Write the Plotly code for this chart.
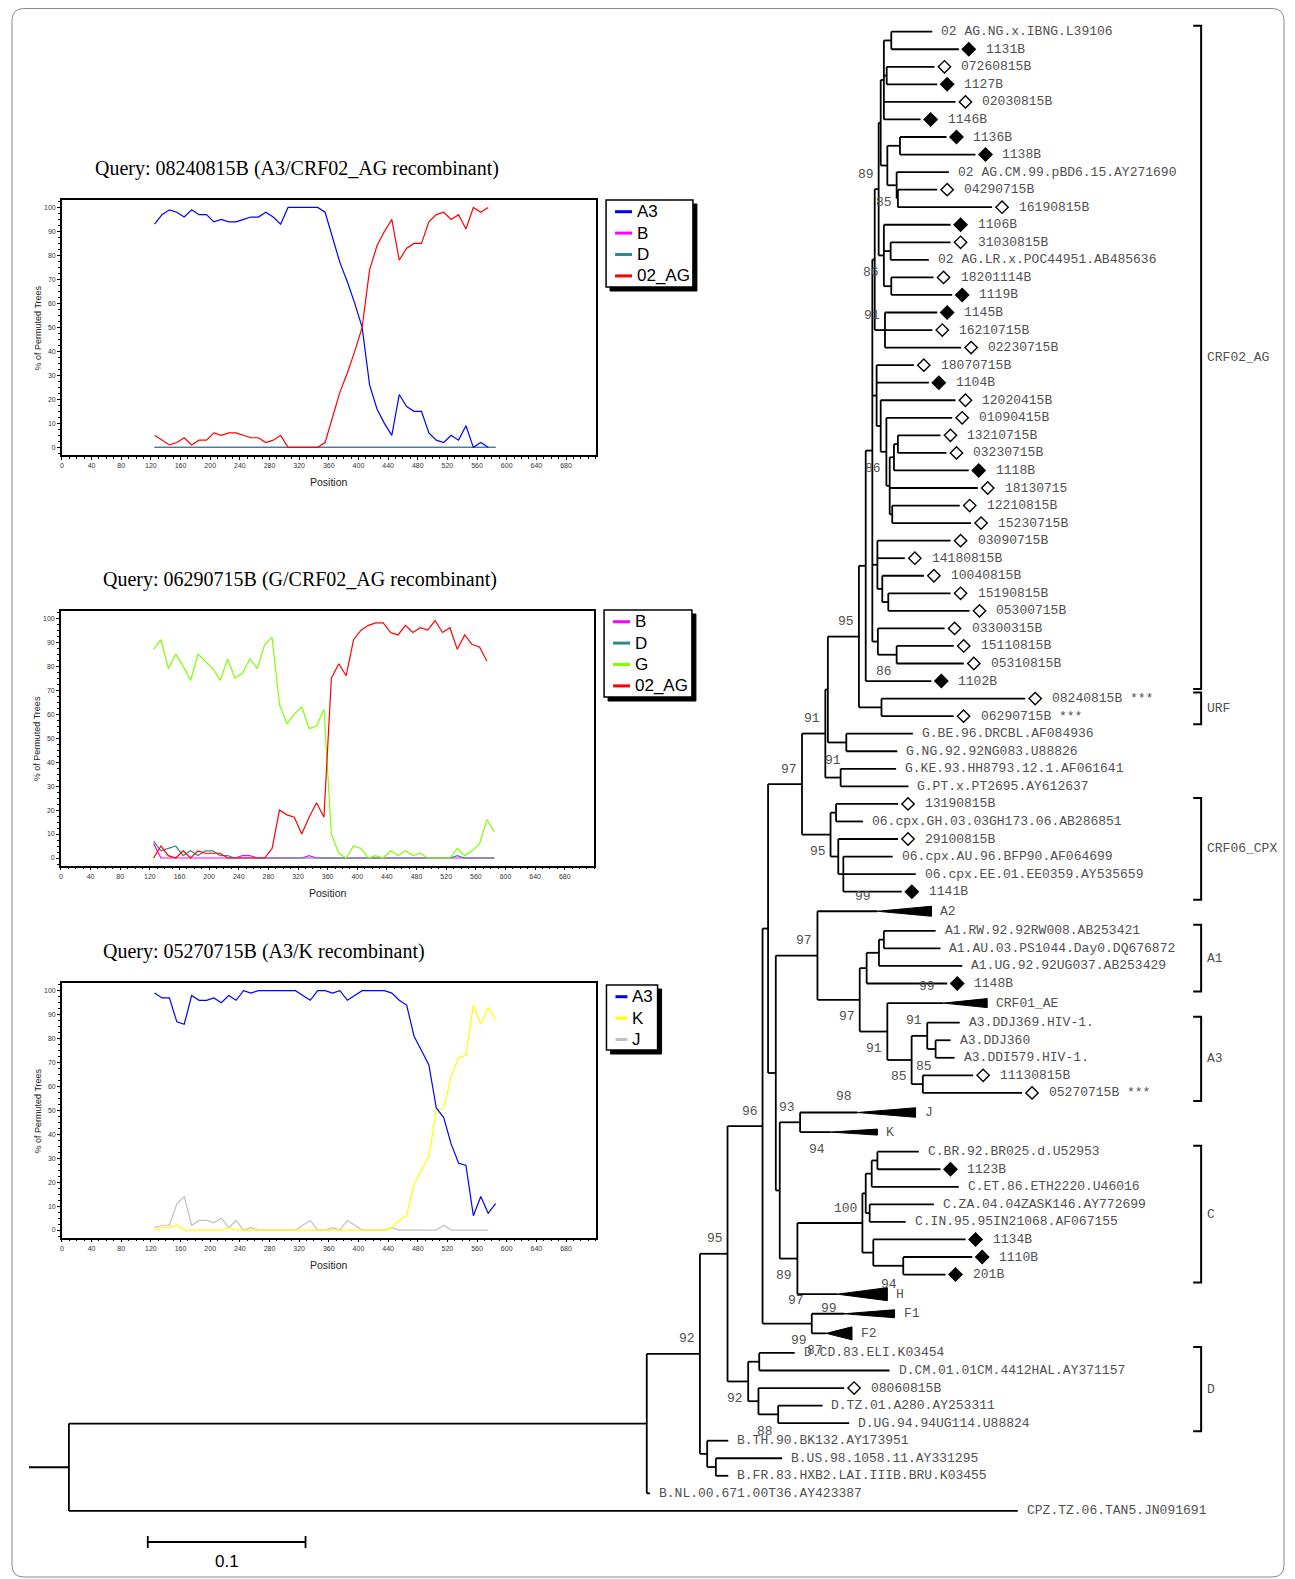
import plotly.graph_objects as go

W, H = 1295, 1579

# ---------------------------------------------------------------- tree data
LEAF_NAMES = [
    "02 AG.NG.x.IBNG.L39106", "1131B", "07260815B", "1127B", "02030815B", "1146B",
    "1136B", "1138B", "02 AG.CM.99.pBD6.15.AY271690", "04290715B", "16190815B",
    "1106B", "31030815B", "02 AG.LR.x.POC44951.AB485636", "18201114B", "1119B",
    "1145B", "16210715B", "02230715B", "18070715B", "1104B", "12020415B", "01090415B",
    "13210715B", "03230715B", "1118B", "18130715", "12210815B", "15230715B",
    "03090715B", "14180815B", "10040815B", "15190815B", "05300715B", "03300315B",
    "15110815B", "05310815B", "1102B", "08240815B ***", "06290715B ***",
    "G.BE.96.DRCBL.AF084936", "G.NG.92.92NG083.U88826", "G.KE.93.HH8793.12.1.AF061641",
    "G.PT.x.PT2695.AY612637", "13190815B", "06.cpx.GH.03.03GH173.06.AB286851",
    "29100815B", "06.cpx.AU.96.BFP90.AF064699", "06.cpx.EE.01.EE0359.AY535659", "1141B",
    "A2", "A1.RW.92.92RW008.AB253421", "A1.AU.03.PS1044.Day0.DQ676872",
    "A1.UG.92.92UG037.AB253429", "1148B", "CRF01_AE", "A3.DDJ369.HIV-1.", "A3.DDJ360",
    "A3.DDI579.HIV-1.", "11130815B", "05270715B ***", "J", "K",
    "C.BR.92.BR025.d.U52953", "1123B", "C.ET.86.ETH2220.U46016",
    "C.ZA.04.04ZASK146.AY772699", "C.IN.95.95IN21068.AF067155", "1134B", "1110B", "201B",
    "H", "F1", "F2", "D.CD.83.ELI.K03454", "D.CM.01.01CM.4412HAL.AY371157", "08060815B",
    "D.TZ.01.A280.AY253311", "D.UG.94.94UG114.U88824", "B.TH.90.BK132.AY173951",
    "B.US.98.1058.11.AY331295", "B.FR.83.HXB2.LAI.IIIB.BRU.K03455",
    "B.NL.00.671.00T36.AY423387", "CPZ.TZ.06.TAN5.JN091691",
]
# F = filled diamond, O = open diamond, T = collapsed clade, . = none
LEAF_MARK = (".FOFOFFF.O" "OFO.OFFOOO" "FOOOOFOOOO" "OOOOOOOFOO" "....O.O..F"
             "T...FT...O" "OTT.F...FF" "FTTT..O..." "....")
# tip depth (substitutions/site from root); for collapsed clades: far end
LEAF_TIP = [
    0.5473, 0.5641, 0.5487, 0.5504, 0.5620, 0.5399, 0.5563, 0.5747, 0.5578, 0.5504,
    0.5852, 0.5589, 0.5589, 0.5451, 0.5481, 0.5599, 0.5504, 0.5473, 0.5656, 0.5356,
    0.5451, 0.5620, 0.5599, 0.5525, 0.5563, 0.5704, 0.5761, 0.5647, 0.5719, 0.5589,
    0.5299, 0.5420, 0.5589, 0.5709, 0.5551, 0.5609, 0.5673, 0.5467, 0.6062, 0.5608,
    0.5350, 0.5251, 0.5244, 0.5322, 0.5256, 0.5034, 0.5256, 0.5222, 0.5368, 0.5280,
    0.5468, 0.5494, 0.5525, 0.5663, 0.5568, 0.5821, 0.5647, 0.5589, 0.5614, 0.5732,
    0.6042, 0.5367, 0.5125, 0.5388, 0.5525, 0.5641, 0.5483, 0.5304, 0.5684, 0.5726,
    0.5557, 0.5188, 0.5234, 0.4964, 0.4601, 0.5202, 0.4914, 0.4777, 0.4946, 0.4180,
    0.4521, 0.4180, 0.3684, 0.6015,
]
# collapsed clades: start depth of the triangle
TRI_START = {50: 0.5125, 55: 0.5544, 61: 0.4998, 62: 0.4829, 71: 0.4871, 72: 0.4914, 73: 0.4801}
ROOT_STUB = 0.0253


def N(d, boot, kids, lab="a"):
    return {"d": d, "b": boot, "k": kids, "lab": lab}


n01 = N(0.5213, None, [0, 1])
n23 = N(0.5184, None, [2, 3])
nA = N(0.5166, None, [n01, n23, 4, 5])
n67 = N(0.5268, None, [6, 7])
n910 = N(0.5255, None, [9, 10])
n810 = N(0.5247, 85, [8, n910], "b")
nN1 = N(0.5188, None, [n67, n810])
nB = N(0.5146, None, [nA, nN1])
n1213 = N(0.5209, None, [12, 13])
n1415 = N(0.5213, None, [14, 15])
nD = N(0.5166, 86, [11, n1213, n1415], "b")
nC = N(0.5133, 89, [nB, nD], "a")
n1618 = N(0.5173, 91, [16, 17, 18], "a")
nE = N(0.5108, None, [nC, n1618])
n2324 = N(0.5255, None, [23, 24])
n2325 = N(0.5230, None, [n2324, 25])
n2728 = N(0.5219, None, [27, 28])
n2328 = N(0.5203, None, [n2325, 26, n2728])
n2228 = N(0.5182, 86, [22, n2328], "b")
n2128 = N(0.5146, None, [21, n2228])
n1928 = N(0.5120, None, [19, 20, n2128])
n3233 = N(0.5194, None, [32, 33])
n3133 = N(0.5156, None, [31, n3233])
n2933 = N(0.5125, None, [29, 30, n3133])
n3536 = N(0.5247, 86, [35, 36], "b")
n3436 = N(0.5128, None, [34, n3536])
nL = N(0.5093, None, [nE, n1928, n2933, n3436])
nK = N(0.5051, None, [nL, 37])
nURF = N(0.5151, None, [38, 39])
nG95 = N(0.5008, 95, [nK, nURF], "a")
n4041 = N(0.4928, None, [40, 41])
nH = N(0.4811, None, [nG95, n4041])
n4243 = N(0.4892, 91, [42, 43], (1, -17))
nI91 = N(0.4795, 91, [nH, n4243], "a")
n4445 = N(0.4863, None, [44, 45])
n4749 = N(0.4909, 99, [47, 48, 49], (29, 22))
n4649 = N(0.4877, None, [46, n4749])
nCPX = N(0.4828, 95, [n4445, n4649], "b")
n97 = N(0.4647, 97, [nI91, nCPX], "a")
n5152 = N(0.5166, None, [51, 52])
n5153 = N(0.5135, None, [n5152, 53])
nA1 = N(0.5057, 99, [n5153, 54], (69, 18))
n5758 = N(0.5494, None, [57, 58])
n5658 = N(0.5441, 91, [56, n5758], "a")
n5960 = N(0.5413, 85, [59, 60], (10, -18))
nA3 = N(0.5342, 85, [n5658, n5960], "b")
nA3AE = N(0.5188, 91, [55, nA3], "b")
nA13 = N(0.5013, 97, [nA1, nA3AE], "b")
nAall = N(0.4745, 97, [50, nA13], "a")
nJK = N(0.4635, 93, [61, 62], "a")
n6364 = N(0.5125, None, [63, 64])
n6365 = N(0.5089, None, [n6364, 65])
n6667 = N(0.5076, None, [66, 67])
nCref = N(0.5051, None, [n6365, n6667])
n6970 = N(0.5289, None, [69, 70])
n6870 = N(0.5099, None, [68, n6970])
nCC = N(0.5030, 100, [nCref, n6870], "a")
nCH = N(0.4618, 89, [nCC, 71], "b")
nJKCH = N(0.4506, None, [nJK, nCH])
n775 = N(0.4481, None, [nAall, nJKCH])
n767 = N(0.4432, None, [n97, n775])
nF = N(0.4709, 99, [72, 73], "b")
n96 = N(0.4397, 96, [n767, nF], "a")
nDCD = N(0.4376, 87, [74, 75], (65, -11))
n7778 = N(0.4496, 88, [77, 78], "b")
n7678 = N(0.4371, None, [76, n7778])
nDD = N(0.4306, 92, [nDCD, n7678], "b")
n95 = N(0.4175, 95, [n96, nDD], "a")
n8081 = N(0.4101, None, [80, 81])
nBB = N(0.4046, None, [79, n8081])
n92 = N(0.4000, 92, [n95, nBB], "a")
nING = N(0.3663, None, [n92, 82])
ROOT = N(0.0, None, [nING, 83])

# bootstrap values drawn beside collapsed clades (leaf index, value)
TRI_BOOT = [(61, 98), (62, 94), (71, 97), (71, 94), (72, 99)]
TRI_BOOT_OFF = [(-4.7, -16), (-5, 17), (-32, 6), (61, -10), (-6, -5)]

CLADES = [("CRF02_AG", 0, 37), ("URF", 38, 39), ("CRF06_CPX", 44, 49), ("A1", 51, 54),
          ("A3", 56, 60), ("C", 63, 70), ("D", 74, 78)]
SCALE_BAR = (0.05, 0.15, "0.1")

# ---------------------------------------------------------------- bootscan data
POS_A = list(range(125, 586, 10))   # 125..585
POS_B = list(range(125, 576, 10))   # 125..575

Q1_A3 = [93, 97, 99, 98, 96, 99, 97, 97, 94, 95, 94, 94, 95, 96, 96, 98, 96, 93, 100, 100,
         100, 100, 100, 98, 88, 77, 69, 60, 50, 26, 16, 10, 5, 22, 17, 15, 15, 6, 3, 2,
         5, 3, 9, 0, 2, 0]
Q1_AG = [5, 3, 1, 2, 4, 1, 3, 3, 6, 5, 6, 6, 5, 4, 4, 2, 3, 5, 0, 0,
         0, 0, 0, 2, 12, 23, 31, 40, 50, 74, 84, 90, 95, 78, 83, 85, 85, 94, 97, 98,
         95, 97, 91, 100, 98, 100]
Q1_B = [0] * 47
Q1_D = [0] * 47

Q2_G = [87, 91, 79, 85, 80, 74, 85, 82, 79, 74, 83, 75, 77, 83, 79, 89, 92, 64, 56, 60,
        63, 54, 55, 62, 10, 2, 0, 5, 4, 0, 1, 0, 3, 1, 3, 1, 2, 0, 0, 0,
        0, 4, 1, 3, 6, 16, 11]
Q2_AG = [0, 5, 1, 0, 3, 0, 3, 2, 2, 2, 0, 0, 0, 0, 0, 0, 4, 20, 18, 17,
         10, 17, 23, 17, 75, 81, 76, 91, 95, 97, 98, 98, 94, 93, 97, 94, 96, 95, 99, 94,
         96, 87, 93, 89, 88, 82]
Q2_D = [7, 3, 4, 5, 1, 3, 1, 3, 3, 1, 1, 0, 0, 0, 0, 0, 0, 0, 0, 0,
        0, 0, 0, 0, 0, 0, 0, 0, 0, 0, 0, 0, 0, 0, 0, 0, 0, 0, 0, 0,
        0, 1, 0, 0, 0, 0, 0]
Q2_B = [6, 0, 0, 0, 0, 0, 0, 0, 0, 0, 0, 0, 1, 1, 0, 0, 0, 0, 0, 0,
        0, 1, 0, 0, 0, 0, 0, 0, 0, 0, 0, 0, 0, 0, 0, 0, 0, 0, 0, 0,
        0, 0, 0, 0, 0, 0, 0]

Q3_A3 = [99, 97, 97, 87, 86, 98, 96, 96, 97, 95, 98, 96, 100, 99, 100, 100, 100, 100, 100, 100,
         98, 96, 100, 100, 99, 100, 96, 98, 100, 100, 100, 100, 99, 96, 94, 81, 75, 69, 51, 47,
         36, 28, 27, 6, 14, 7, 11]
Q3_K = [0, 1, 1, 2, 0, 0, 0, 0, 0, 0, 1, 0, 0, 0, 0, 0, 0, 0, 0, 0,
        0, 0, 0, 0, 0, 0, 0, 0, 0, 0, 0, 0, 1, 4, 6, 19, 25, 31, 50, 51,
        64, 72, 73, 94, 86, 93, 88]
Q3_J = [1, 2, 2, 11, 14, 2, 4, 4, 3, 5, 1, 4, 0, 1, 0, 0, 0, 0, 0, 0,
        2, 4, 0, 0, 1, 0, 4, 2, 0, 0, 0, 0, 1, 0, 0, 0, 0, 0, 0, 2,
        0, 0, 0, 0, 0, 0]

TITLES = ["Query: 08240815B (A3/CRF02_AG recombinant)",
          "Query: 06290715B (G/CRF02_AG recombinant)",
          "Query: 05270715B (A3/K recombinant)"]
# draw order
SERIES = [
    [("B", POS_A, Q1_B), ("D", POS_A, Q1_D), ("A3", POS_B, Q1_A3), ("02_AG", POS_B, Q1_AG)],
    [("B", POS_A, Q2_B), ("D", POS_A, Q2_D), ("G", POS_A, Q2_G), ("02_AG", POS_B, Q2_AG)],
    [("J", POS_B, Q3_J), ("K", POS_A, Q3_K), ("A3", POS_A, Q3_A3)],
]
LEGEND_ORDER = [["A3", "B", "D", "02_AG"], ["B", "D", "G", "02_AG"], ["A3", "K", "J"]]
COLORS = {"A3": "#0000ff", "B": "#ff00ff", "D": "#2e8b8b", "02_AG": "#ff0000",
          "G": "#80ff00", "K": "#ffff00", "J": "#c0c0c0"}

# ---------------------------------------------------------------- layout constants
OFF = 8                    # page body margin added by the browser
WF, HF = W - 16, H - 8     # figure size inside the page
PX = 1580.0                # pixels per substitution/site
X0 = 67.0                  # pixel position of the root
ROW0, GAP, TGAP = 31.7, 17.55, 19.6
TREE_FONT = dict(family="Liberation Mono, Courier New, monospace", size=13, color="#505050")
SANS = "Liberation Sans, Arial, sans-serif"

INSET_BOX = [(60, 200, 594.6, 455), (59, 610.7, 593.3, 865.7), (60, 983.3, 594.6, 1237.7)]
TITLE_XY = [(91, 168.3), (99, 579), (99, 951.3)]
LEGEND_BOX = [(605, 200, 692, 287), (603, 610, 691, 697), (605.4, 985, 656.6, 1050)]
LEGEND_SAMPLE = [17, 17, 12]


def fx(p):
    return (p - OFF) / WF


def fy(p):
    return 1 - (p - OFF) / HF


def ux(p):
    return p / PX


n_leaf = len(LEAF_NAMES)
leaf_y = [ROW0]
for i in range(1, n_leaf):
    g = TGAP if (LEAF_MARK[i] == "T" or LEAF_MARK[i - 1] == "T") else GAP
    leaf_y.append(leaf_y[-1] + g)

seg_x, seg_y = [], []
annotations = []


def boot_label(x, y, val, dx, dy):
    annotations.append(dict(x=x + ux(dx), y=y + dy, xref="x", yref="y", text=str(val),
                            showarrow=False, xanchor="right", yanchor="middle",
                            font=TREE_FONT, borderpad=0))


def place(node):
    if isinstance(node, int):
        return leaf_y[node], TRI_START.get(node, LEAF_TIP[node])
    ys = []
    for ch in node["k"]:
        cy, cx = place(ch)
        seg_x.extend([node["d"], cx, None])
        seg_y.extend([cy, cy, None])
        ys.append(cy)
    seg_x.extend([node["d"], node["d"], None])
    seg_y.extend([min(ys), max(ys), None])
    y = (ys[0] + ys[-1]) / 2.0
    if node["b"] is not None:
        lab = node["lab"]
        if lab == "a":
            dx, dy = -4, -15
        elif lab == "b":
            dx, dy = -4, 17
        else:
            dx, dy = lab
        boot_label(node["d"], y, node["b"], dx, dy)
    return y, node["d"]


root_y, _ = place(ROOT)
seg_x.extend([-ROOT_STUB, 0.0, None])
seg_y.extend([root_y, root_y, None])

fig = go.Figure()
fig.add_trace(go.Scatter(x=seg_x, y=seg_y, mode="lines", line=dict(color="black", width=1.8),
                         hoverinfo="skip", showlegend=False, xaxis="x", yaxis="y"))

# collapsed clade triangles
tx, ty = [], []
TRI_H = {50: 10, 55: 9, 61: 9.5, 62: 6, 71: 13, 72: 8, 73: 13}
for i, s in TRI_START.items():
    e = LEAF_TIP[i]
    y = leaf_y[i]
    h = TRI_H[i] / 2.0
    tx.extend([s, e, e, s, None])
    ty.extend([y, y - h, y + h, y, None])
fig.add_trace(go.Scatter(x=tx, y=ty, mode="lines", fill="toself", fillcolor="black",
                         line=dict(color="black", width=1), hoverinfo="skip",
                         showlegend=False, xaxis="x", yaxis="y"))

for v, (dx, dy) in zip(TRI_BOOT, TRI_BOOT_OFF):
    i, val = v
    boot_label(TRI_START[i], leaf_y[i], val, dx, dy)

# diamonds
for kind, fill in (("F", "black"), ("O", "white")):
    idx = [i for i in range(n_leaf) if LEAF_MARK[i] == kind]
    fig.add_trace(go.Scatter(
        x=[LEAF_TIP[i] + ux(10) for i in idx], y=[leaf_y[i] for i in idx], mode="markers",
        marker=dict(symbol="diamond", size=10 if kind == "F" else 9.5, color=fill,
                    line=dict(color="black", width=1.4)),
        hoverinfo="skip", showlegend=False, xaxis="x", yaxis="y"))

# leaf labels
for i, name in enumerate(LEAF_NAMES):
    off = 26 if LEAF_MARK[i] in "FO" else 8
    annotations.append(dict(x=LEAF_TIP[i] + ux(off), y=leaf_y[i], xref="x", yref="y",
                            text=name, showarrow=False, xanchor="left", yanchor="middle",
                            font=TREE_FONT, borderpad=0))

# clade brackets
BX = ux(1201 - X0)
bx, by = [], []
for name, a, b in CLADES:
    y0, y1 = leaf_y[a] - 6, leaf_y[b] + 8
    bx.extend([BX - ux(8), BX, BX, BX - ux(8), None])
    by.extend([y0, y0, y1, y1, None])
    annotations.append(dict(x=BX + ux(5), y=(y0 + y1) / 2, xref="x", yref="y", text=name,
                            showarrow=False, xanchor="left", yanchor="middle",
                            font=TREE_FONT, borderpad=0))
fig.add_trace(go.Scatter(x=bx, y=by, mode="lines", line=dict(color="black", width=2),
                         hoverinfo="skip", showlegend=False, xaxis="x", yaxis="y"))

# scale bar
s0, s1, slab = SCALE_BAR
SB_Y = 1542
fig.add_trace(go.Scatter(x=[s0, s1, None, s0, s0, None, s1, s1],
                         y=[SB_Y, SB_Y, None, SB_Y - 6, SB_Y + 6, None, SB_Y - 6, SB_Y + 6],
                         mode="lines", line=dict(color="black", width=1.8), hoverinfo="skip",
                         showlegend=False, xaxis="x", yaxis="y"))
annotations.append(dict(x=(s0 + s1) / 2, y=SB_Y + 19, xref="x", yref="y", text=slab,
                        showarrow=False, xanchor="center", yanchor="middle",
                        font=dict(family=SANS, size=17, color="black")))

# ---------------------------------------------------------------- bootscan insets
shapes = []
layout_axes = {}
for k in range(3):
    ax = k + 2
    xa, ya = "x%d" % ax, "y%d" % ax
    l, t, r, b = INSET_BOX[k]
    for name, xs, ys in SERIES[k]:
        fig.add_trace(go.Scatter(x=xs, y=ys, mode="lines", name=name,
                                 line=dict(color=COLORS[name], width=1.2),
                                 hoverinfo="skip", showlegend=False, xaxis=xa, yaxis=ya))
    layout_axes["xaxis%d" % ax] = dict(
        domain=[fx(l), fx(r)], anchor=ya, range=[0, 720], tickmode="array",
        tickvals=list(range(0, 681, 40)), showline=True, linecolor="black", linewidth=1.5,
        mirror=True, ticks="outside", ticklen=3, tickwidth=1, tickcolor="black",
        showgrid=False, zeroline=False, tickfont=dict(family=SANS, size=7, color="#333"),
        minor=dict(ticks="outside", ticklen=2, tickcolor="black", tickmode="linear",
                   tick0=0, dtick=10, showgrid=False),
        fixedrange=True)
    layout_axes["yaxis%d" % ax] = dict(
        domain=[fy(b), fy(t)], anchor=xa, range=[-3.2, 103.1], tickmode="linear", tick0=0,
        dtick=10, showline=True, linecolor="black", linewidth=1.5, mirror=True,
        ticks="outside", ticklen=3, tickwidth=1, tickcolor="black", showgrid=False,
        zeroline=False, tickfont=dict(family=SANS, size=7, color="#333"),
        minor=dict(ticks="outside", ticklen=2, tickcolor="black", tickmode="linear",
                   tick0=0, dtick=2.5, showgrid=False),
        fixedrange=True)
    # titles
    tx0, ty0 = TITLE_XY[k]
    annotations.append(dict(x=fx(tx0), y=fy(ty0), xref="paper", yref="paper", text=TITLES[k],
                            showarrow=False, xanchor="left", yanchor="middle",
                            font=dict(family="Liberation Serif, Times New Roman, serif",
                                      size=20, color="black")))
    annotations.append(dict(x=fx(l - 24), y=fy((t + b) / 2), xref="paper", yref="paper",
                            text="% of Permuted Trees", textangle=-90, showarrow=False,
                            xanchor="center", yanchor="middle",
                            font=dict(family=SANS, size=9, color="#222")))
    annotations.append(dict(x=fx((l + r) / 2), y=fy(b + 27), xref="paper", yref="paper",
                            text="Position", showarrow=False, xanchor="center",
                            yanchor="middle", font=dict(family=SANS, size=10.5, color="#222")))
    # legend box with shadow
    lx0, ly0, lx1, ly1 = LEGEND_BOX[k]
    shapes.append(dict(type="rect", xref="paper", yref="paper", x0=fx(lx0 + 4), x1=fx(lx1 + 4),
                       y0=fy(ly1 + 4), y1=fy(ly0 + 4), fillcolor="black",
                       line=dict(color="black", width=1)))
    shapes.append(dict(type="rect", xref="paper", yref="paper", x0=fx(lx0), x1=fx(lx1),
                       y0=fy(ly1), y1=fy(ly0), fillcolor="white",
                       line=dict(color="black", width=1.5)))
    sl = LEGEND_SAMPLE[k]
    for j, name in enumerate(LEGEND_ORDER[k]):
        yy = ly0 + 11.7 + 21.4 * j
        shapes.append(dict(type="line", xref="paper", yref="paper", x0=fx(lx0 + 9),
                           x1=fx(lx0 + 9 + sl), y0=fy(yy), y1=fy(yy),
                           line=dict(color=COLORS[name], width=3)))
        annotations.append(dict(x=fx(lx0 + 12 + sl), y=fy(yy), xref="paper", yref="paper",
                                text=name, showarrow=False, xanchor="left", yanchor="middle",
                                font=dict(family=SANS, size=17, color="black")))

# outer rounded frame
fl, ft, fr, fb, rr = 10, 8.5, 1284, 1577, 12
path = ("M %f,%f L %f,%f Q %f,%f %f,%f L %f,%f Q %f,%f %f,%f L %f,%f Q %f,%f %f,%f "
        "L %f,%f Q %f,%f %f,%f Z") % (
    fx(fl + rr), fy(ft), fx(fr - rr), fy(ft), fx(fr), fy(ft), fx(fr), fy(ft + rr),
    fx(fr), fy(fb - rr), fx(fr), fy(fb), fx(fr - rr), fy(fb),
    fx(fl + rr), fy(fb), fx(fl), fy(fb), fx(fl), fy(fb - rr),
    fx(fl), fy(ft + rr), fx(fl), fy(ft), fx(fl + rr), fy(ft))
shapes.append(dict(type="path", xref="paper", yref="paper", path=path,
                   line=dict(color="#8a8a8a", width=1)))

fig.update_layout(
    width=WF, height=HF, margin=dict(l=0, r=0, t=0, b=0),
    paper_bgcolor="white", plot_bgcolor="white", hovermode=False, showlegend=False,
    xaxis=dict(domain=[0, 1], range=[(OFF - X0) / PX, (OFF + WF - X0) / PX], visible=False,
               fixedrange=True),
    yaxis=dict(domain=[0, 1], range=[OFF + HF, OFF], visible=False, fixedrange=True),
    annotations=annotations, shapes=shapes, **layout_axes)

fig.write_html("out.html")
